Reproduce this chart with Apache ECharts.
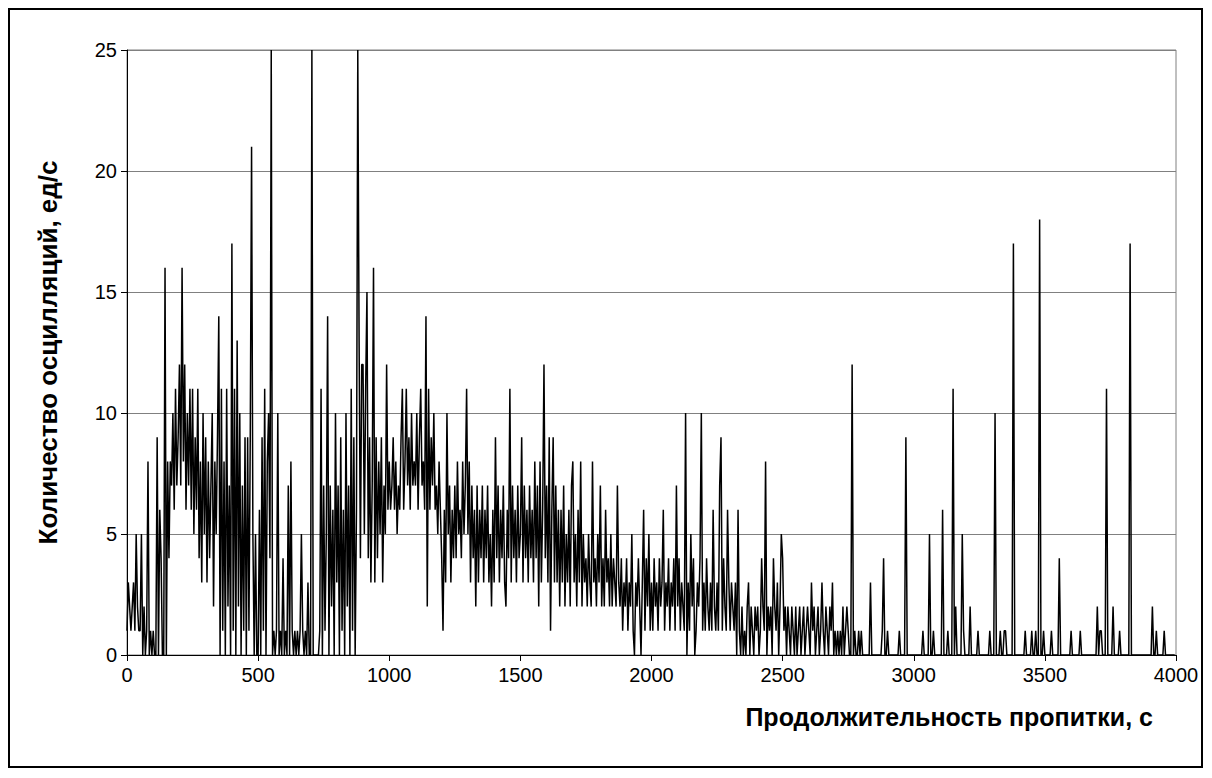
<!DOCTYPE html>
<html>
<head>
<meta charset="utf-8">
<script src="https://cdn.jsdelivr.net/npm/echarts/dist/echarts.min.js"></script>
<style>
  html, body { margin: 0; padding: 0; background: #fff; }
  #chart { width: 1212px; height: 778px; }
  #frame {
    position: absolute; left: 8px; top: 8px;
    width: 1191px; height: 756px;
    border: 2px solid #000; pointer-events: none;
  }
</style>
</head>
<body>
<div id="chart"></div>
<div id="frame"></div>
<script>
// шаг по времени, с
const step = 5;

// количество осцилляций, ед/с — по 100 точек на каждые 500 с
const counts0 = [ // 0–495 с
  1,3,2,1,2,3,1,5,2,1, 1,5,0,2,0,1,8,0,1,0, 1,0,0,9,0,6,4,0,0,16,
  0,8,4,8,7,10,6,11,7,9, 12,7,16,8,12,6,10,7,11,6, 11,5,9,6,11,4,8,3,10,5,
  9,3,8,4,7,10,2,8,5,9, 14,0,11,1,8,0,11,2,7,0, 17,1,11,0,13,2,10,0,7,1,
  9,0,9,1,9,21,5,0,5,0
];
const counts1 = [ // 500–995 с
  0,6,0,9,1,11,0,8,10,4, 25,0,1,0,1,10,0,1,0,4, 0,1,0,7,0,8,1,0,1,0,
  1,0,1,5,1,0,1,0,3,0, 0,25,0,0,0,0,0,1,11,0, 7,1,5,14,0,7,2,6,0,10,
  3,7,0,9,1,6,0,10,2,7, 0,11,1,9,0,6,25,13,4,12, 12,5,11,15,4,9,3,7,16,3,
  9,4,8,5,9,3,7,5,12,6
];
const counts2 = [ // 1000–1495 с
  8,6,7,9,6,8,5,7,6,9, 11,6,8,11,7,9,6,10,7,8, 7,10,6,9,11,7,8,6,14,2,
  11,6,9,7,10,6,7,5,8,6, 4,1,6,3,10,5,7,3,6,4, 7,4,8,5,6,4,8,5,7,11,
  5,8,3,7,4,6,2,7,3,6, 4,7,3,6,4,7,3,5,2,6, 3,9,4,7,3,6,4,7,3,2,
  6,4,11,3,7,4,6,3,7,4
];
const counts3 = [ // 1500–1995 с
  5,9,3,7,4,6,3,7,4,6, 3,8,4,7,2,8,3,6,12,4, 7,3,9,1,6,9,3,7,3,6,
  2,6,3,7,2,5,3,6,2,7, 8,3,5,2,6,3,8,2,5,3, 4,2,5,3,2,8,3,4,2,5,
  3,7,2,4,2,6,3,4,2,5, 2,4,3,2,7,3,2,4,1,3, 2,4,1,3,2,5,1,0,3,2,
  4,2,0,3,6,1,4,2,5,1
];
const counts4 = [ // 2000–2495 с
  3,1,4,2,3,1,4,2,3,6, 1,3,2,4,1,3,2,4,1,7, 2,4,1,3,2,1,10,0,3,1,
  5,2,4,0,1,3,2,4,10,1, 3,1,4,2,1,3,1,6,2,1, 3,1,7,9,1,4,2,1,6,3,
  1,3,2,1,3,0,6,1,0,2, 0,1,0,2,3,0,2,1,0,2, 1,2,0,1,4,2,1,8,0,2,
  1,2,0,4,2,1,3,0,2,5
];
const counts5 = [ // 2500–2995 с
  4,1,2,0,2,1,0,2,1,0, 2,0,1,2,0,1,2,0,1,2, 1,0,3,1,2,0,1,2,0,1,
  3,1,0,2,1,0,2,1,3,0, 1,0,1,0,1,0,2,0,1,2, 1,0,0,12,0,1,0,0,1,0,
  1,0,0,0,0,0,0,3,0,0, 0,0,0,0,0,0,1,4,0,0, 1,0,0,0,0,0,0,0,0,1,
  0,0,0,0,9,0,0,0,0,0
];
const counts6 = [ // 3000–3495 с
  0,0,0,0,0,0,0,1,0,0, 0,0,5,0,0,1,0,0,0,0, 0,0,6,0,0,0,1,0,0,0,
  11,0,2,0,0,0,0,5,1,0, 0,0,0,2,0,0,0,0,0,1, 0,0,0,0,0,0,0,0,1,0,
  0,0,10,0,0,0,1,0,0,1, 1,0,0,0,0,0,17,0,0,0, 0,0,0,0,0,1,0,0,0,0,
  1,0,0,1,0,0,18,0,0,1
];
const counts7 = [ // 3500–3995 с
  0,0,0,0,0,1,0,0,0,0, 0,4,0,0,0,0,0,0,0,0, 1,0,0,0,0,0,0,1,0,0,
  0,0,0,0,0,0,0,0,0,0, 2,0,1,1,0,0,0,11,0,0, 0,0,2,0,0,0,0,1,0,0,
  0,0,0,0,0,17,0,0,0,0, 0,0,0,0,0,0,0,0,0,0, 0,0,2,0,0,1,0,0,0,0,
  0,1,0,0,0,0,0,0,0,0
];

const xTicks = [0, 500, 1000, 1500, 2000, 2500, 3000, 3500, 4000];
const yTicks = [0, 5, 10, 15, 20, 25];

const allCounts = [].concat(counts0, counts1, counts2, counts3, counts4, counts5, counts6, counts7);
const seriesData = allCounts.map((v, i) => [i * step, v]);

const font = 'Arial, "Liberation Sans", sans-serif';

const chart = echarts.init(document.getElementById('chart'), null, { renderer: 'svg' });
chart.setOption({
  animation: false,
  backgroundColor: '#fff',
  grid: {
    left: 127, right: 36, top: 50, bottom: 123,
    show: true, borderColor: '#808080', borderWidth: 1
  },
  xAxis: {
    type: 'value',
    min: xTicks[0], max: xTicks[xTicks.length - 1], interval: 500,
    axisLine: { lineStyle: { color: '#000', width: 1 } },
    axisTick: { show: true, inside: false, length: 6, lineStyle: { color: '#000' } },
    axisLabel: {
      color: '#000', fontSize: 20, fontFamily: font, margin: 10,
      formatter: (v) => String(v)
    },
    splitLine: { show: false }
  },
  yAxis: {
    type: 'value',
    min: yTicks[0], max: yTicks[yTicks.length - 1], interval: 5,
    name: 'Количество осцилляций, ед/с',
    nameLocation: 'middle',
    nameGap: 66,
    nameTextStyle: { color: '#000', fontSize: 26, fontWeight: 'bold', fontFamily: font },
    axisLine: { show: true, lineStyle: { color: '#000', width: 1 } },
    axisTick: { show: true, inside: false, length: 6, lineStyle: { color: '#000' } },
    axisLabel: { color: '#000', fontSize: 20, fontFamily: font, margin: 10 },
    splitLine: { show: true, lineStyle: { color: '#808080', width: 1 } }
  },
  graphic: [{
    type: 'text',
    right: 59, top: 704,
    style: { text: 'Продолжительность пропитки, с', font: 'bold 25px ' + font, fill: '#000' }
  }],
  series: [{
    type: 'line',
    data: seriesData,
    showSymbol: false,
    symbol: 'none',
    sampling: null,
    lineStyle: { color: '#000', width: 1.5 },
    emphasis: { disabled: true }
  }]
});
</script>
</body>
</html>
